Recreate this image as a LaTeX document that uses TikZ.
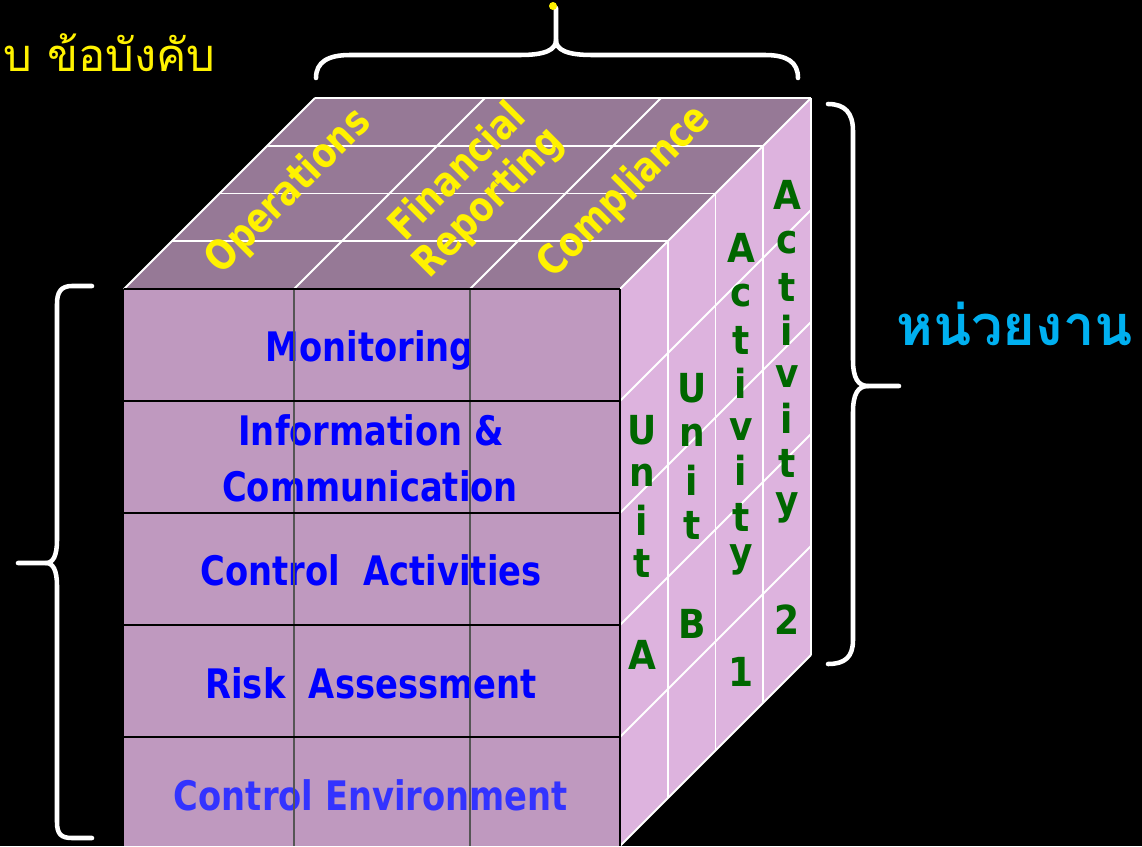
\documentclass[tikz,border=0pt]{standalone}
\usepackage{fontspec}
\usepackage{graphicx}
\newfontfamily\boxfont{DejaVu Sans Bold}[FakeStretch=0.83]
\newfontfamily\sidefont{DejaVu Sans Bold}[FakeStretch=0.9]
\newfontfamily\thaifont[Script=Thai]{Loma}
\definecolor{topc}{RGB}{150,121,150}
\definecolor{frontc}{RGB}{191,153,191}
\definecolor{sidec}{RGB}{221,179,222}
\definecolor{txtgreen}{RGB}{0,102,0}
\definecolor{txtblue}{RGB}{0,0,255}
\definecolor{envblue}{RGB}{51,51,255}
\definecolor{thaicyan}{RGB}{0,176,240}
\definecolor{gridgray}{RGB}{85,85,85}
\tikzset{
  rowtxt/.style={anchor=base, inner sep=0pt, text=txtblue, font=\boxfont\fontsize{30.5}{36}\selectfont},
  toptxt/.style={inner sep=0pt, rotate=45, text=yellow, align=center, font=\boxfont\fontsize{31}{32.5}\selectfont},
  sidetxt/.style={inner sep=0pt, text=txtgreen, font=\sidefont\fontsize{30}{36}\selectfont},
  brace/.style={draw=white, line width=3.4pt, line cap=round, line join=round},
  whiteline/.style={draw=white, line width=1.4pt},
}
\begin{document}
\begin{tikzpicture}[x=0.75pt, y=-0.75pt]
\def\d{191}
% canvas
\fill[black] (0,0) rectangle (1142,846);
\useasboundingbox (0,0) rectangle (1142,846);
\clip (0,0) rectangle (1142,846);

% ---- faces of the cube ----
\fill[frontc] (124,289) rectangle (620,846);
\fill[topc] (124,289) -- (124+\d,289-\d) -- (620+\d,289-\d) -- (620,289) -- cycle;
\fill[sidec] (620,289) -- (620+\d,289-\d) -- (620+\d,846-\d) -- (620,846) -- cycle;

% ---- top face grid ----
\foreach \k in {1,2,3,4}
  \draw[whiteline] (124+\k*\d/4,289-\k*\d/4) -- (620+\k*\d/4,289-\k*\d/4);
\foreach \x in {124,294,470,620}
  \draw[whiteline] (\x,289) -- (\x+\d,289-\d);

% ---- side face grid ----
\foreach \k in {1,2,3,4}
  \draw[whiteline] (620+\k*\d/4,289-\k*\d/4) -- (620+\k*\d/4,846-\k*\d/4);
\foreach \y in {401,513,625,737,846}
  \draw[whiteline] (620,\y) -- (620+\d,\y-\d);

% ---- objectives on the top face ----
\node[toptxt] (ops) at (289,192) {Operations};
\node[toptxt] (fin) at (474,188) {Financial\\Reporting};
\node[toptxt] (comp) at (625,192) {Compliance};

% ---- units and activities on the side face ----
\foreach \ch/\yy in {U/430,n/475,i/520,t/563,A/655}
  \node[sidetxt] (ua-\yy) at (642,\yy) {\ch};
\foreach \ch/\yy in {U/388,n/435,i/480,t/525,B/624}
  \node[sidetxt] (ub-\yy) at (692,\yy) {\ch};
\foreach \ch/\yy in {A/248,c/296,t/340,i/383,v/430,i/470,t/517,y/560,1/672}
  \node[sidetxt] (aa-\yy) at (741,\yy) {\ch};
\foreach \ch/\yy in {A/195,c/243,t/287,i/330,v/377,i/418,t/463,y/508,2/620}
  \node[sidetxt] (ab-\yy) at (787,\yy) {\ch};

% ---- components on the front face ----
\node[rowtxt] (mon) at (370,361) {Monitoring};
\node[rowtxt] (info) at (371,445) {Information \&};
\node[rowtxt] (comm) at (370,501) {Communication};
\node[rowtxt] (ctrl) at (371,585) {Control\ \ Activities};
\node[rowtxt] (risk) at (371,698) {Risk\ \ Assessment};
\node[rowtxt, text=envblue] (env) at (371,810) {Control Environment};

% ---- front face grid ----
\foreach \x in {294,470}
  \draw[gridgray, line width=1.5pt] (\x,289) -- (\x,846);
\foreach \y in {289,401,513,625,737}
  \draw[black, line width=1.5pt] (124,\y) -- (620,\y);
\draw[black, line width=1.5pt] (620,289) -- (620,846);

% ---- braces ----
\draw[brace] (316,78) .. controls (316,62) and (328,55) .. (350,55) -- (520,55)
  .. controls (545,55) and (556,50) .. (556,40) -- (556,8);
\draw[brace] (556,40) .. controls (556,50) and (567,55) .. (592,55) -- (765,55)
  .. controls (787,55) and (798,62) .. (798,78);
\fill[yellow] (553,6) circle (4);

\draw[brace] (92,286) -- (72,286) .. controls (61,286) and (57,292) .. (57,304) -- (57,540)
  .. controls (57,556) and (53,563) .. (46,563) -- (18,563);
\draw[brace] (46,563) .. controls (53,563) and (57,570) .. (57,586) -- (57,822)
  .. controls (57,834) and (61,838) .. (72,838) -- (92,838);

\draw[brace] (828,104) .. controls (845,104) and (853,113) .. (853,131) -- (853,360)
  .. controls (853,378) and (858,386) .. (868,386) -- (899,386);
\draw[brace] (868,386) .. controls (858,386) and (853,394) .. (853,412) -- (853,640)
  .. controls (853,657) and (845,664) .. (828,664);

% ---- Thai labels ----
\node[anchor=base west, inner sep=0pt, text=yellow, font=\thaifont\fontsize{34}{40}\selectfont] (rules) at (3,71) {บ ข้อบังคับ};
\node[anchor=base west, inner sep=0pt, text=thaicyan, font=\thaifont\bfseries\fontsize{42}{50}\selectfont] (units) at (896,345) {หน่วยงาน};
\end{tikzpicture}
\end{document}
